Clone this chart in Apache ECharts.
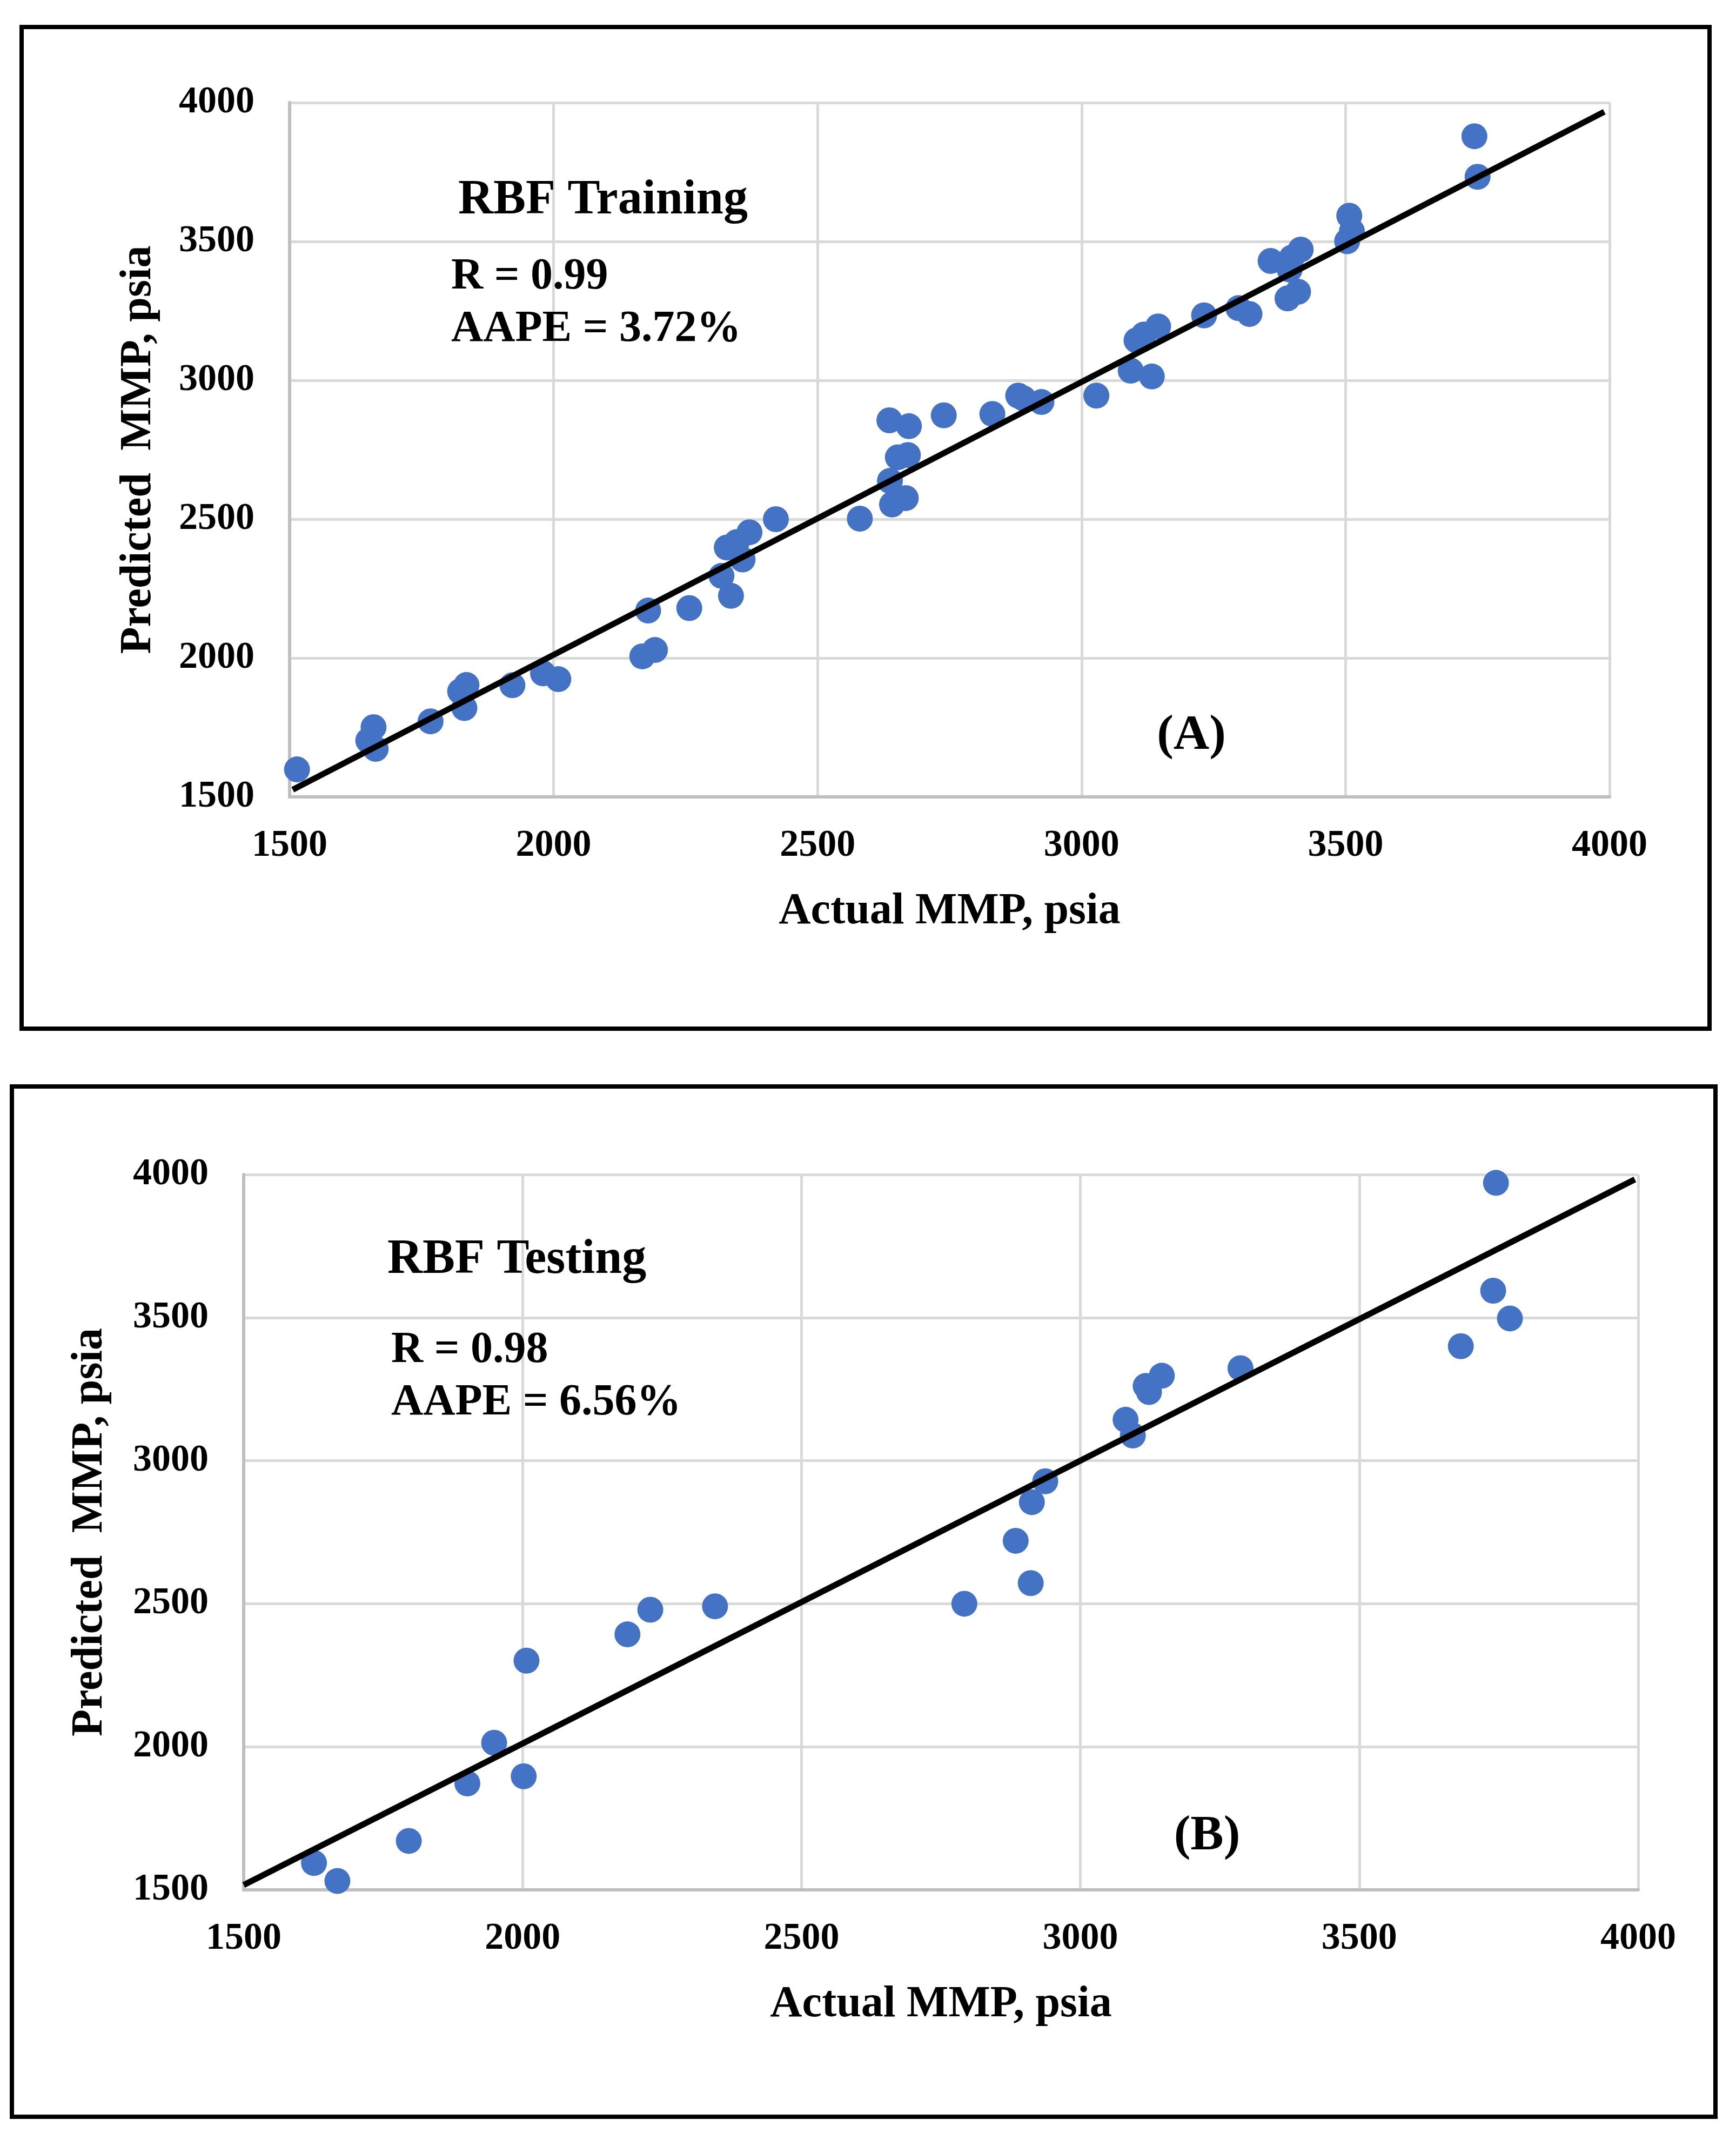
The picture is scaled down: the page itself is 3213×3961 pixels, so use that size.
<!DOCTYPE html>
<html>
<head>
<meta charset="utf-8">
<title>RBF MMP</title>
<script src="https://cdn.jsdelivr.net/npm/echarts@6/dist/echarts.min.js"></script>
<style>
  html, body { margin: 0; padding: 0; background: #fff; }
  #main { width: 3213px; height: 3961px; }
</style>
</head>
<body>
<div id="main"></div>
<script>
// training set (A)
var trainActual = [1514, 1649, 1659, 1663, 1767, 1831, 1835, 1823, 1922, 1980, 2009, 2168, 2192, 2179, 2257,
  2318, 2336, 2328, 2358, 2347, 2371, 2421, 2580, 2636, 2673, 2652, 2671, 2637, 2641, 2667,
  2739, 2831, 2880, 2890, 2924, 3028, 3093, 3133, 3104, 3118, 3145, 3232, 3297, 3318,
  3358, 3398, 3415, 3394, 3390, 3410, 3507, 3503, 3512, 3744, 3750];
var trainPredicted = [1599, 1703, 1751, 1673, 1772, 1820, 1903, 1880, 1902, 1945, 1924, 2006, 2029, 2171, 2180,
  2296, 2224, 2398, 2355, 2418, 2453, 2500, 2502, 2856, 2835, 2723, 2731, 2638, 2553, 2576,
  2874, 2879, 2945, 2935, 2922, 2945, 3035, 3014, 3144, 3165, 3194, 3234, 3260, 3239,
  3430, 3442, 3471, 3399, 3295, 3319, 3593, 3501, 3537, 3879, 3733];

// testing set (B)
var testActual = [1626, 1668, 1796, 1901, 1949, 2002, 2007, 2188, 2229, 2345, 2792, 2884, 2911, 2913,
  2937, 3081, 3094, 3117, 3123, 3146, 3287, 3682, 3740, 3770, 3745];
var testPredicted = [1594, 1531, 1671, 1872, 2014, 1897, 2301, 2393, 2479, 2491, 2500, 2720, 2572, 2855,
  2928, 3143, 3088, 3261, 3240, 3297, 3323, 3400, 3594, 3497, 3971];

// fitted lines, end points
var trendA = [[1506, 1526], [3990, 3967]];
var trendB = [[1500, 1517], [3994, 3983]];

var axisMin = 1500, axisMax = 4000, axisStep = 500;

function pairs(xs, ys) {
  return xs.map(function (x, i) { return [x, ys[i]]; });
}

var FONT = '"Liberation Serif", "Times New Roman", serif';

function plain(v) { return String(v); }

function xAx(idx) {
  return {
    gridIndex: idx, type: 'value', min: axisMin, max: axisMax, interval: axisStep,
    name: 'Actual MMP, psia', nameLocation: 'middle', nameGap: 172,
    nameTextStyle: { fontFamily: FONT, fontWeight: 'bold', fontSize: 82, color: '#000' },
    axisLine: { show: true, lineStyle: { color: '#bfbfbf', width: 6 } },
    axisTick: { show: false },
    axisLabel: { margin: 56, fontFamily: FONT, fontWeight: 'bold', fontSize: 70, color: '#000', formatter: plain },
    splitLine: { show: true, lineStyle: { color: '#d9d9d9', width: 5 } }
  };
}
function yAx(idx, gap) {
  return {
    gridIndex: idx, type: 'value', min: axisMin, max: axisMax, interval: axisStep,
    name: 'Predicted  MMP, psia', nameLocation: 'middle', nameGap: gap,
    nameTextStyle: { fontFamily: FONT, fontWeight: 'bold', fontSize: 82, color: '#000' },
    axisLine: { show: true, lineStyle: { color: '#bfbfbf', width: 6 } },
    axisTick: { show: false },
    axisLabel: { margin: 65, fontFamily: FONT, fontWeight: 'bold', fontSize: 70, color: '#000', formatter: plain },
    splitLine: { show: true, lineStyle: { color: '#d9d9d9', width: 5 } }
  };
}

function label(x, y, text, size, align) {
  return {
    type: 'text', z: 100,
    style: { x: x, y: y, text: text, fill: '#000', textAlign: align || 'left', textVerticalAlign: 'middle',
      font: 'bold ' + size + 'px ' + FONT }
  };
}

var myChart = echarts.init(document.getElementById('main'));
var option = {
  backgroundColor: '#fff',
  animation: false,
  grid: [
    { left: 536, top: 190, width: 2443, height: 1285 },
    { left: 451, top: 2174, width: 2581, height: 1324 }
  ],
  xAxis: [xAx(0), xAx(1)],
  yAxis: [yAx(0, 238), yAx(1, 243)],
  series: [
    {
      type: 'scatter', xAxisIndex: 0, yAxisIndex: 0, symbolSize: 48,
      itemStyle: { color: '#4472c4', opacity: 1 },
      data: pairs(trainActual, trainPredicted), z: 3
    },
    {
      type: 'line', xAxisIndex: 0, yAxisIndex: 0, symbol: 'none',
      lineStyle: { color: '#000', width: 11 }, data: trendA, z: 5
    },
    {
      type: 'scatter', xAxisIndex: 1, yAxisIndex: 1, symbolSize: 48,
      itemStyle: { color: '#4472c4', opacity: 1 },
      data: pairs(testActual, testPredicted), z: 3
    },
    {
      type: 'line', xAxisIndex: 1, yAxisIndex: 1, symbol: 'none',
      lineStyle: { color: '#000', width: 11 }, data: trendB, z: 5
    }
  ],
  graphic: [
    // panel frames
    { type: 'rect', shape: { x: 40, y: 50, width: 3124, height: 1854 },
      style: { fill: 'none', stroke: '#000', lineWidth: 8 } },
    { type: 'rect', shape: { x: 22, y: 2011, width: 3153, height: 1907 },
      style: { fill: 'none', stroke: '#000', lineWidth: 8 } },
    label(848, 372, 'RBF Training', 90),
    label(835, 513, 'R = 0.99', 82),
    label(835, 610, 'AAPE = 3.72%', 82),
    label(2205, 1362, '(A)', 92, 'center'),
    label(717, 2333, 'RBF Testing', 90),
    label(724, 2500, 'R = 0.98', 82),
    label(724, 2597, 'AAPE = 6.56%', 82),
    label(2234, 3399, '(B)', 92, 'center')
  ]
};

myChart.setOption(option);
window.addEventListener('resize', function () {
  myChart.resize();
});
</script>
</body>
</html>
